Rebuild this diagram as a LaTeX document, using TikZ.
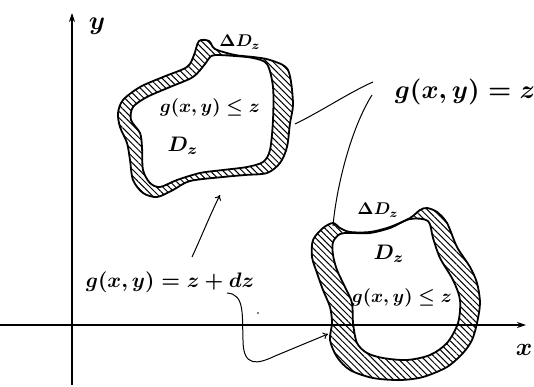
\documentclass[tikz,border=0pt]{standalone}
\usetikzlibrary{arrows.meta,patterns.meta}
\tikzset{
  ring/.style={pattern={Lines[angle=-45,distance=4.5pt,line width=1pt]}, even odd rule},
  rim/.style={line width=1.8pt, line join=round},
  axis/.style={line width=1.3pt, -{Stealth[length=9pt,width=6pt]}},
  conn/.style={line width=1pt},
  arr/.style={line width=1pt, -{To[length=5pt,width=7pt]}},
  lab/.style={inner sep=0pt, font=\boldmath},
}
\def\uo{plot[smooth cycle] coordinates {(199,41) (209,41) (215,49) (235,55) (253,57) (270,60) (288,70) (293,103) (290,123) (287,147) (280,163) (267,173) (245,175) (223,177) (190,181) (173,190) (157,197) (143,193) (133,180) (130,160) (127,143) (120,127) (118,113) (123,100) (140,87) (163,77) (187,67) (194,55)}}
\def\ui{plot[smooth cycle] coordinates {(216,55) (235,56) (253,58) (267,64) (273,87) (273,120) (270,150) (263,162) (247,167) (223,170) (200,173) (177,180) (160,187) (150,183) (143,170) (142,147) (140,133) (131,120) (133,107) (147,97) (170,87) (193,77) (205,64) (210,57)}}
\def\lo{plot[smooth cycle] coordinates {(333,223) (323,228) (313,240) (312,257) (317,273) (323,290) (330,307) (332,323) (330,340) (337,357) (350,370) (373,378) (400,380) (423,377) (447,367) (463,353) (472,340) (477,323) (480,303) (477,283) (470,267) (457,247) (447,223) (437,212) (427,208) (420,210) (410,218) (390,227) (370,232) (350,232) (340,228)}}
\def\li{plot[smooth cycle] coordinates {(340,234) (333,242) (333,255) (337,270) (345,287) (352,303) (353,323) (357,343) (367,353) (383,358) (407,360) (430,355) (447,343) (458,323) (460,300) (453,280) (440,258) (433,238) (428,221) (410,219) (390,228) (370,233) (350,233)}}
\begin{document}
\begin{tikzpicture}[x=1pt,y=-1pt]
\useasboundingbox (0,0) rectangle (534,387);
% axes
\coordinate (ybot) at (72,385);
\coordinate (ytop) at (72,13);
\coordinate (xl) at (0,325);
\coordinate (xr) at (526,325);
\draw[axis] (ybot) -- (ytop);
\draw[axis] (xl) -- (xr);
\node[lab,scale=2.6] (ylab) at (97,26) {$y$};
\node[lab,scale=2.5] (xlab) at (524,350) {$x$};
% upper region
\path[ring] \uo \ui;
\draw[rim] \uo;
\draw[rim] \ui;
% lower region
\path[ring] \lo \li;
\draw[rim] \lo;
\draw[rim] \li;
% labels
\node[lab,scale=1.7] (dDu) at (240,42) {$\Delta D_z$};
\node[lab,scale=1.85] (gu) at (210,108) {$g(x,y)\le z$};
\node[lab,scale=2.1] (Du) at (183,146) {$D_z$};
\node[lab,scale=1.7] (dDl) at (378,210) {$\Delta D_z$};
\node[lab,scale=2.1] (Dl) at (389,254) {$D_z$};
\node[lab,scale=1.85] (gl) at (402,298) {$g(x,y)\le z$};
\node[lab,scale=2.6] (geq) at (465,92) {$g(x,y)=z$};
\node[lab,scale=2.1] (gdz) at (170,282) {$g(x,y)=z+dz$};
% connectors
\coordinate (c1a) at (373,82);
\coordinate (c1b) at (295,124);
\coordinate (c2a) at (372,95);
\coordinate (c2b) at (333,226);
\coordinate (a1a) at (192,257);
\coordinate (a1b) at (220,195);
\coordinate (a2a) at (227,293);
\coordinate (a2m) at (243,340);
\coordinate (a2b) at (328,334);
\draw[conn] (c1a) .. controls (350,92) and (320,112) .. (c1b);
\draw[conn] (c2a) .. controls (350,130) and (336,190) .. (c2b);
\draw[arr] (a1a) .. controls (200,240) and (210,215) .. (a1b);
\draw[arr] (a2a) .. controls (245,294) and (242,315) .. (a2m) .. controls (243,368) and (258,364) .. (275,356) -- (a2b);
\fill (258,313) circle (0.9pt);
\end{tikzpicture}
\end{document}
